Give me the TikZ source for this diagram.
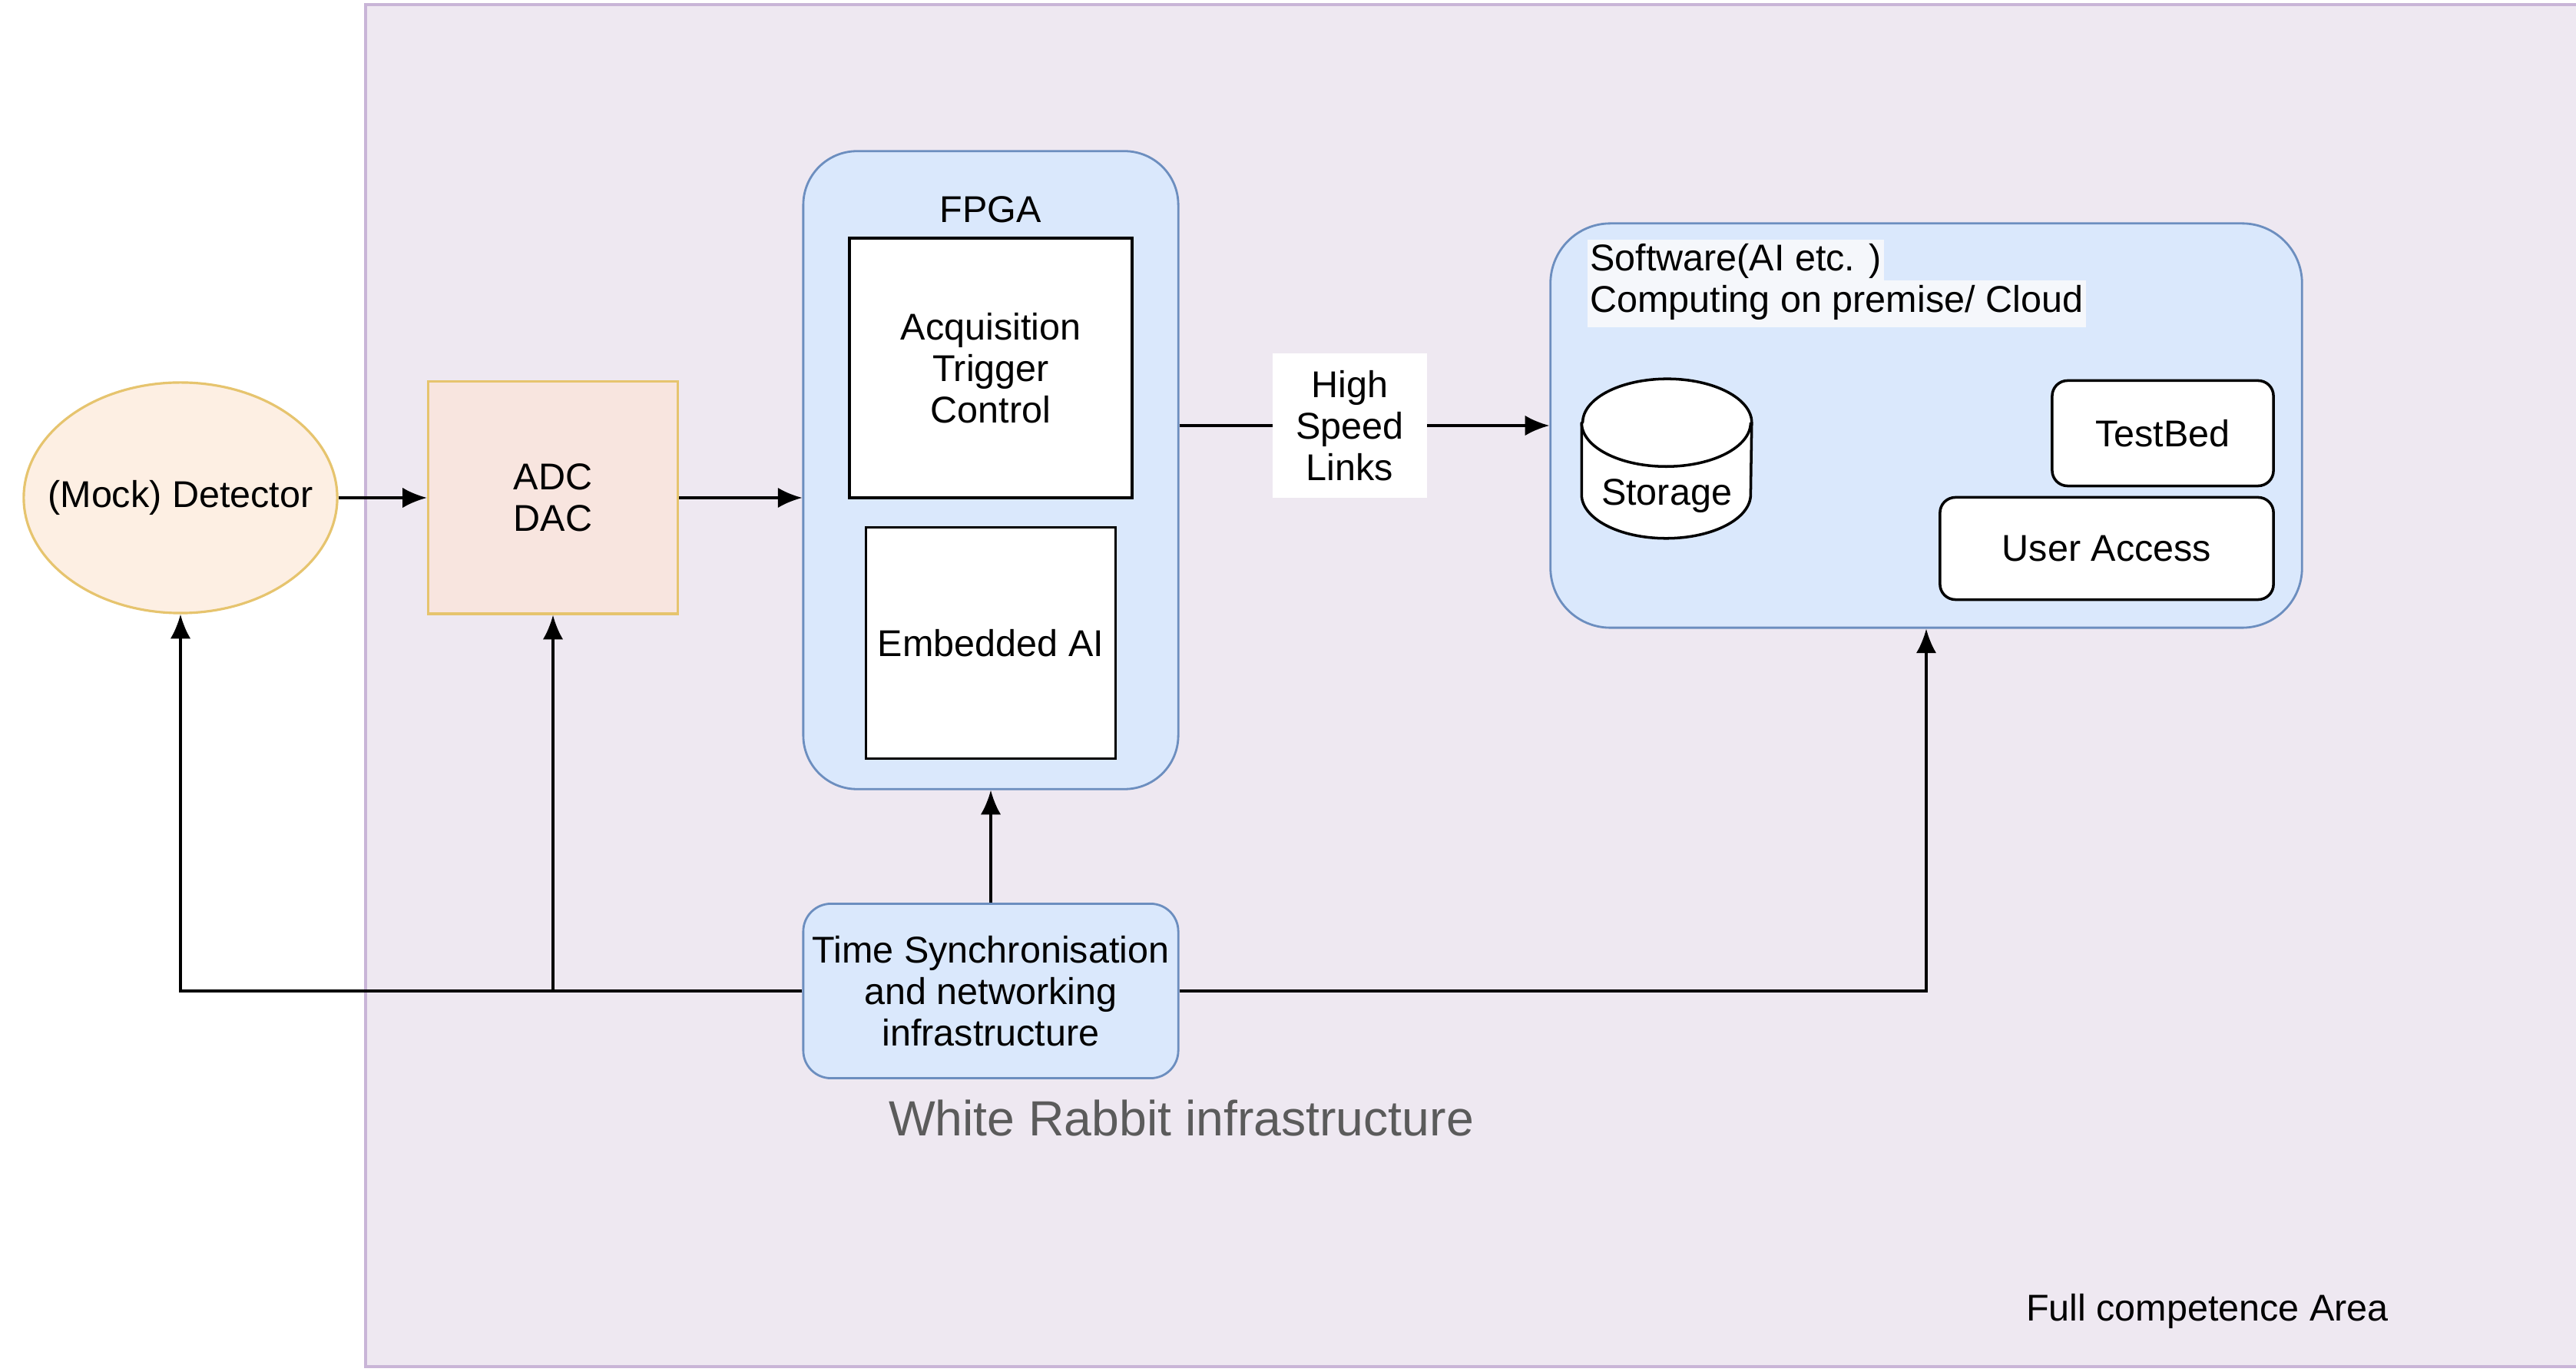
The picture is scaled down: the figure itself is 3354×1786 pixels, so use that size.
\documentclass[tikz,border=0pt]{standalone}
\usepackage{fontspec}
\setmainfont{Liberation Sans}
\usepackage{tikz}
\usetikzlibrary{calc,positioning,shapes.geometric,arrows.meta}
\definecolor{colorpu}{HTML}{EEE8F1}
\definecolor{colorpub}{HTML}{C9B5D7}
\definecolor{colordet}{HTML}{FDEFE3}
\definecolor{coloradc}{HTML}{F8E5DF}
\definecolor{colorsand}{HTML}{E6C46E}
\definecolor{colorbl}{HTML}{DAE8FC}
\definecolor{colorblb}{HTML}{6C8EBF}
\definecolor{colorhl}{HTML}{F5F7FB}
\definecolor{colorgr}{HTML}{5B5B5B}
\tikzset{
  edgesb/.style={black, line width=1pt, -{Latex[length=9pt,width=7.5pt]}},
  areabox/.style={draw=colorpub, fill=colorpu, line width=0.9pt},
  boxbl/.style={draw=colorblb, fill=colorbl, line width=0.8pt, align=center},
  boxwh/.style={draw=black, fill=white, line width=1pt, align=center},
  boxsand/.style={draw=colorsand, line width=0.9pt, align=center},
  hsl/.style={fill=white, align=center, minimum width=2.01cm, minimum height=1.87cm}
}
\newcommand\dtxt{\fontsize{13.8}{15.3}\selectfont}
\newcommand\hlline[1]{{\setlength{\fboxsep}{1pt}\colorbox{colorhl}{\strut #1}}}

\begin{document}
\begin{tikzpicture}[x=0.01cm, y=-0.01cm, font=\dtxt]
\useasboundingbox (0,0) rectangle (3354,1786);
% competence area
\draw[areabox] (476,6) rectangle (3380,1779);
\node (fcalbl) at (2874,1707) {Full competence Area};

\node[boxsand, ellipse, fill=colordet, minimum width=4.08cm, minimum height=3.0cm, inner sep=0pt,
  label={[name=detlbl]center:(Mock) Detector}] (det) at (235,648) {};
\node[boxsand, fill=coloradc, minimum width=3.25cm, minimum height=3.02cm] (adc) at (720,648) {ADC\\DAC};

% fpga
\node[boxbl, rounded corners=0.7cm, minimum width=4.88cm, minimum height=8.3cm,
  label={[anchor=center, yshift=-0.77cm]north:FPGA}] (fpga) at (1290,612) {};
\node[boxwh, minimum width=3.68cm, minimum height=3.38cm] (acq) at (1290,479) {Acquisition\\Trigger\\Control};
\node[boxwh, minimum width=3.25cm, minimum height=3.01cm] (emb) at (1290,837) {Embedded AI};

% software
\node[boxbl, rounded corners=0.78cm, minimum width=9.78cm, minimum height=5.26cm] (sw) at (2508,554) {};
\node[anchor=west, align=left, inner sep=0pt] (swlbl) at (2066,369) {\hlline{Software(AI etc. )}\\[-3pt]\hlline{Computing on premise/ Cloud}};
\node[minimum width=2.2cm, minimum height=2.06cm] (stor) at (2170,597) {};
\draw[black, fill=white, line width=1pt, line join=round] ($(stor.north west)+(0,57)$) -- ($(stor.south west)+(0,-57)$)
  arc[start angle=180, end angle=360, x radius=1.1cm, y radius=0.57cm]
  -- ($(stor.north east)+(0,57)$)
  arc[start angle=0, end angle=180, x radius=1.1cm, y radius=0.57cm] -- cycle;
\draw[black, line width=1pt] ($(stor.north west)+(0,57)$)
  arc[start angle=180, end angle=360, x radius=1.1cm, y radius=0.57cm];
\node at ($(stor.center)+(0,49)$) {Storage};
\node[boxwh, rounded corners=0.2cm, minimum width=2.88cm, minimum height=1.37cm] (tb) at (2816,564) {TestBed};
\node[boxwh, rounded corners=0.2cm, minimum width=4.34cm, minimum height=1.33cm] (ua) at (2743,714) {User Access};

% timing
\node[boxbl, rounded corners=0.36cm, minimum width=4.88cm, minimum height=2.27cm] (ts) at (1290,1290) {Time Synchronisation\\and networking\\infrastructure};
\node[text=colorgr, font=\fontsize{18.3}{20}\selectfont] (wrlbl) at (1538,1455) {White Rabbit infrastructure};

\draw[edgesb] (det) -- (adc);
\draw[edgesb] (adc.east) -- (adc.east -| fpga.west);
\draw[edgesb] (fpga.east |- sw.west) -- node[hsl, pos=0.46] (hsllbl) {High\\Speed\\Links} (sw.west);
\draw[edgesb] (ts) -- (fpga);
\draw[edgesb] (ts.west) -| (det.south);
\draw[edgesb] (ts.west) -| (adc.south);
\draw[edgesb] (ts.east) -| (sw.south);
\end{tikzpicture}
\end{document}
